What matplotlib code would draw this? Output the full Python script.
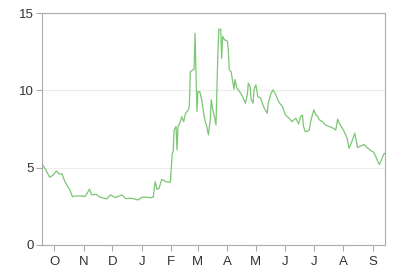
import matplotlib
matplotlib.use("Agg")
import matplotlib.pyplot as plt
import matplotlib.dates as mdates
import pandas as pd

# values; days counted from the first point
START = "2013-09-18"
day_offsets = [0, 3, 8, 12, 15, 18, 21, 24, 27, 29, 32, 36, 41, 45, 47, 50, 52, 57, 61, 68,
               72, 77, 84, 88, 94, 101, 105, 110, 114, 117, 119, 121, 123, 126, 130, 135, 137, 138, 139, 141,
               142, 143, 145, 147, 149, 151, 154, 155, 156, 159, 160, 161, 162, 163, 164, 166, 168, 170, 172, 173,
               175, 177, 178, 180, 181, 183, 185, 186, 188, 189, 190, 192, 195, 196, 197, 199, 200, 202, 203, 205,
               207, 209, 211, 214, 216, 217, 219, 220, 222, 223, 225, 227, 230, 233, 237, 238, 241, 243, 246, 248,
               250, 253, 256, 260, 263, 267, 270, 272, 274, 275, 277, 281, 283, 286, 288, 289, 292, 295, 298, 302,
               305, 309, 311, 313, 316, 318, 321, 323, 326, 329, 332, 335, 339, 342, 346, 349, 353, 355, 358, 360,
               361]
values = [5.24, 4.96, 4.38, 4.53, 4.79, 4.6, 4.6, 4.1, 3.77, 3.6, 3.13, 3.17, 3.17, 3.13, 3.3, 3.62, 3.24, 3.28, 3.09, 2.98,
          3.24, 3.06, 3.24, 3.0, 3.02, 2.91, 3.09, 3.09, 3.05, 3.1, 4.1, 3.6, 3.65, 4.25, 4.1, 4.05, 5.93, 6.04, 7.44, 7.66,
          6.15, 7.66, 7.88, 8.3, 7.98, 8.52, 8.74, 9.06, 11.22, 11.33, 11.37, 13.7, 11.3, 8.63, 9.92, 9.92, 9.39, 8.52, 7.88, 7.77,
          7.12, 8.09, 9.39, 8.63, 8.41, 7.77, 12.4, 13.96, 13.96, 12.08, 13.5, 13.27, 13.2, 12.6, 11.33, 11.2, 10.8, 10.08, 10.7, 10.14,
          10.0, 9.82, 9.6, 9.17, 9.71, 10.47, 10.25, 9.39, 9.17, 10.03, 10.36, 9.6, 9.5, 8.95, 8.52, 9.17, 9.82, 10.03, 9.71, 9.39,
          9.17, 8.95, 8.41, 8.2, 7.98, 8.2, 7.83, 8.3, 8.41, 7.7, 7.33, 7.4, 8.09, 8.74, 8.41, 8.41, 8.09, 7.98, 7.77, 7.66,
          7.6, 7.44, 8.14, 7.83, 7.55, 7.33, 6.9, 6.26, 6.69, 7.23, 6.3, 6.4, 6.5, 6.3, 6.1, 6.0, 5.45, 5.2, 5.65, 5.93,
          5.9]
y_ticks = [0, 5, 10, 15]

dates = pd.Timestamp(START) + pd.to_timedelta(day_offsets, unit="D")

plt.rcParams["font.family"] = ["Liberation Sans", "DejaVu Sans"]
fig = plt.figure(figsize=(3.93, 2.68), dpi=100)
ax = fig.add_axes([0.107, 0.086, 0.873, 0.865])

ax.plot(dates, values, color="#7cc674", lw=0.9)

ax.set_xlim(dates[0], dates[-1])
ax.set_ylim(0, 15)
ax.set_yticks(y_ticks)
ax.xaxis.set_major_locator(mdates.MonthLocator())
fig.canvas.draw()
ax.set_xticks(ax.get_xticks())
ax.set_xticklabels([mdates.num2date(t).strftime("%b")[0] for t in ax.get_xticks()])

ax.grid(axis="y", color="#ececec", lw=0.8)
ax.set_axisbelow(True)
for s in ax.spines.values():
    s.set_color("#aaaaaa")
    s.set_linewidth(0.8)
ax.tick_params(colors="#aaaaaa", labelcolor="#333333", labelsize=9.5, length=4, width=0.8)
ax.tick_params(axis="x", pad=4)
ax.tick_params(axis="y", pad=2)

fig.savefig("out.png", dpi=100)
